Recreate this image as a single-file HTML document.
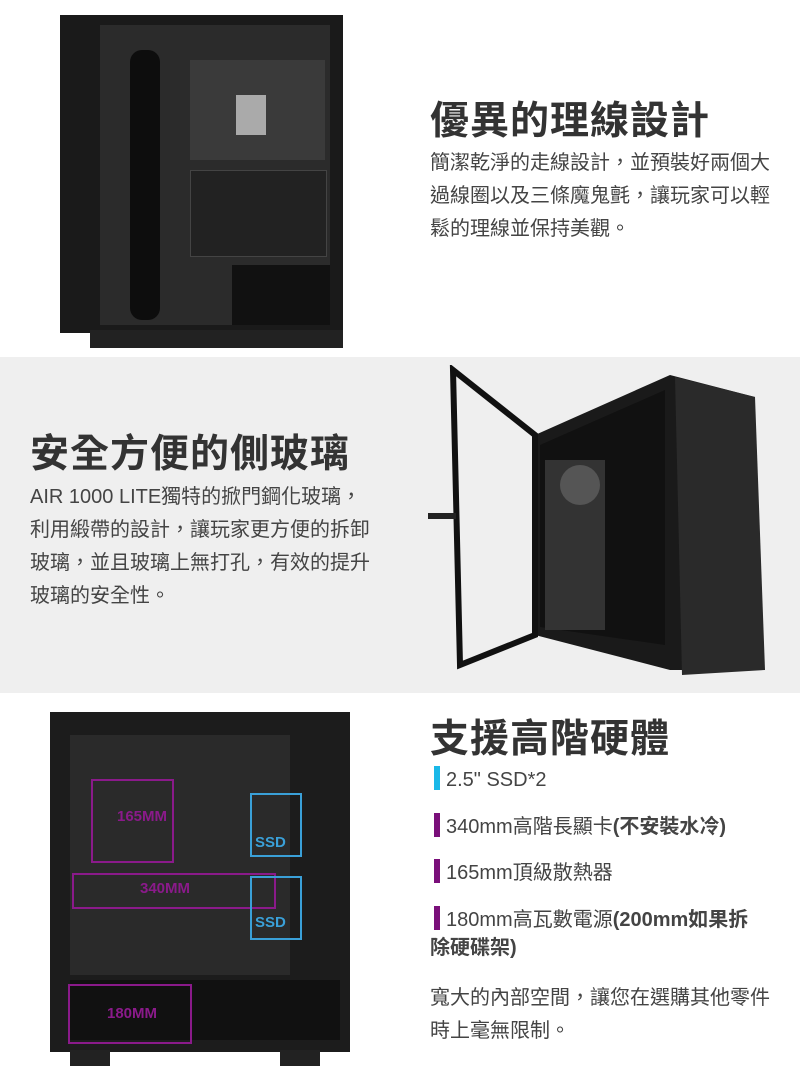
<!DOCTYPE html>
<html><head><meta charset="utf-8"><style>
body{margin:0;width:800px;height:1074px;position:relative;overflow:hidden;background:#fff;font-family:"Liberation Sans","Noto Sans CJK TC",sans-serif;color:#333}
.a{position:absolute}
.t{font-size:39px;font-weight:bold;color:#333;letter-spacing:1px;white-space:nowrap}
.p{font-size:20px;line-height:33px;color:#444;white-space:nowrap}
.bar{display:inline-block;width:6px;height:24px;vertical-align:-4px;margin-right:6px}
</style></head><body>
<!-- section 1 -->
<div class="a" style="left:60px;top:15px;width:283px;height:318px;background:#1a1a1a"></div>
<div class="a" style="left:90px;top:330px;width:253px;height:18px;background:#222"></div>
<div class="a" style="left:100px;top:25px;width:230px;height:300px;background:#2b2b2b"></div>
<div class="a" style="left:190px;top:60px;width:135px;height:100px;background:#3a3a3a"></div>
<div class="a" style="left:236px;top:95px;width:30px;height:40px;background:#aaa"></div>
<div class="a" style="left:190px;top:170px;width:135px;height:85px;background:#222;border:1px solid #444"></div>
<div class="a" style="left:232px;top:265px;width:98px;height:60px;background:#111"></div>
<div class="a" style="left:130px;top:50px;width:30px;height:270px;background:#0d0d0d;border-radius:12px"></div>
<div class="a t" style="left:430px;top:90px">優異的理線設計</div>
<div class="a p" style="left:430px;top:147px">簡潔乾淨的走線設計，並預裝好兩個大<br>過線圈以及三條魔鬼氈，讓玩家可以輕<br>鬆的理線並保持美觀。</div>
<!-- section 2 -->
<div class="a" style="left:0;top:357px;width:800px;height:336px;background:#efefef"></div>
<div class="a t" style="left:30px;top:423px">安全方便的側玻璃</div>
<div class="a p" style="left:30px;top:481px">AIR 1000 LITE獨特的掀門鋼化玻璃，<br>利用緞帶的設計，讓玩家更方便的拆卸<br>玻璃，並且玻璃上無打孔，有效的提升<br>玻璃的安全性。</div>
<svg class="a" style="left:420px;top:365px" width="360" height="320">
<polygon points="115,70 250,10 335,32 335,305 250,305 115,270" fill="#1a1a1a"/>
<polygon points="255,12 335,32 345,305 262,310" fill="#2a2a2a"/>
<polygon points="120,80 245,25 245,280 120,262" fill="#111"/>
<rect x="125" y="95" width="60" height="170" fill="#333"/>
<rect x="140" y="100" width="40" height="40" rx="20" fill="#555"/>
<polygon points="33,5 115,70 115,270 40,300" fill="none" stroke="#111" stroke-width="6"/>
<rect x="8" y="148" width="28" height="6" fill="#222"/>
</svg>
<!-- section 3 -->
<div class="a" style="left:50px;top:712px;width:300px;height:340px;background:#1c1c1c"></div>
<div class="a" style="left:70px;top:1050px;width:40px;height:16px;background:#222"></div>
<div class="a" style="left:280px;top:1050px;width:40px;height:16px;background:#222"></div>
<div class="a" style="left:70px;top:735px;width:220px;height:240px;background:#2a2a2a"></div>
<div class="a" style="left:70px;top:980px;width:270px;height:60px;background:#111"></div>
<div class="a" style="left:91px;top:779px;width:79px;height:80px;border:2px solid #8a1a8a"></div>
<div class="a" style="left:117px;top:808px;color:#8a1a8a;font-size:15px;font-weight:bold">165MM</div>
<div class="a" style="left:72px;top:873px;width:200px;height:32px;border:2px solid #8a1a8a"></div>
<div class="a" style="left:140px;top:880px;color:#8a1a8a;font-size:15px;font-weight:bold">340MM</div>
<div class="a" style="left:250px;top:793px;width:48px;height:60px;border:2px solid #3aa0d8"></div>
<div class="a" style="left:255px;top:834px;color:#3aa0d8;font-size:15px;font-weight:bold">SSD</div>
<div class="a" style="left:250px;top:876px;width:48px;height:60px;border:2px solid #3aa0d8"></div>
<div class="a" style="left:255px;top:914px;color:#3aa0d8;font-size:15px;font-weight:bold">SSD</div>
<div class="a" style="left:68px;top:984px;width:120px;height:56px;border:2px solid #8a1a8a"></div>
<div class="a" style="left:107px;top:1005px;color:#8a1a8a;font-size:15px;font-weight:bold">180MM</div>
<div class="a t" style="left:430px;top:708px">支援高階硬體</div>
<div class="a p" style="left:434px;top:764px"><span class="bar" style="background:#1ab8e8"></span>2.5" SSD*2</div>
<div class="a p" style="left:434px;top:811px"><span class="bar" style="background:#7a0f7a"></span>340mm高階長顯卡<b>(不安裝水冷)</b></div>
<div class="a p" style="left:434px;top:857px"><span class="bar" style="background:#7a0f7a"></span>165mm頂級散熱器</div>
<div class="a p" style="left:434px;top:904px;line-height:32px"><span class="bar" style="background:#7a0f7a"></span>180mm高瓦數電源<b>(200mm如果拆</b></div>
<div class="a p" style="left:430px;top:932px"><b>除硬碟架)</b></div>
<div class="a p" style="left:430px;top:982px">寬大的內部空間，讓您在選購其他零件<br>時上毫無限制。</div>
</body></html>
